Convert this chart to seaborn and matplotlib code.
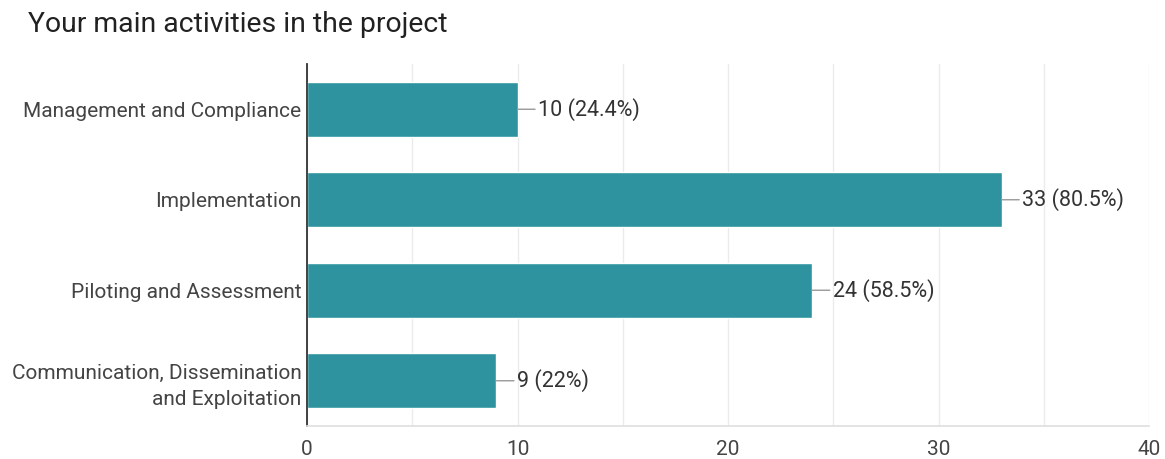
import pandas as pd
import seaborn as sns
import matplotlib.pyplot as plt
from matplotlib.ticker import MultipleLocator

# chart data
activities = ['Management and Compliance', 'Implementation',
              'Piloting and Assessment', 'Communication, Dissemination\nand Exploitation']
counts = [10, 33, 24, 9]
labels = ['10 (24.4%)', '33 (80.5%)', '24 (58.5%)', '9 (22%)']
x_ticks = [0, 10, 20, 30, 40]

df = pd.DataFrame({'activity': activities, 'count': counts})

sns.set_theme(style="white")
plt.rcParams['font.family'] = ['Roboto', 'DejaVu Sans']

fig = plt.figure(figsize=(11.65, 4.59), dpi=100)
ax = fig.add_axes([307 / 1165, 1 - 426 / 459, 842 / 1165, 362 / 459])

sns.barplot(data=df, x='count', y='activity', color='#2e939f', width=0.61,
            saturation=1, ax=ax)

ax.set_xlim(0, 40)
ax.set_xticks(x_ticks)
ax.xaxis.set_minor_locator(MultipleLocator(5))
ax.grid(True, which='both', axis='x', color='#ebebeb', linewidth=1)
ax.set_axisbelow(True)
ax.set_xlabel('')
ax.set_ylabel('')

for side in ['top', 'right']:
    ax.spines[side].set_visible(False)
ax.spines['bottom'].set_color('#e0e0e0')
ax.spines['left'].set_color('#333333')
ax.spines['left'].set_linewidth(1.3)

ax.tick_params(axis='both', length=0, labelsize=15, colors='#444444')
ax.tick_params(axis='x', pad=10)
ax.tick_params(axis='y', pad=4)
for t in ax.get_yticklabels():
    t.set_linespacing(1.5)

# value labels with short leader line
for i, (v, lab) in enumerate(zip(counts, labels)):
    ax.annotate(lab, xy=(v, i), xytext=(15, 0), textcoords='offset points',
                va='center', ha='left', fontsize=15.5, color='#333333',
                arrowprops=dict(arrowstyle='-', color='#999999', lw=1,
                                shrinkA=0, shrinkB=0))

fig.text(28 / 1165, 1 - 25 / 459, 'Your main activities in the project',
         fontsize=20.4, color='#212121', va='center', ha='left')

plt.savefig('out.png', dpi=100)
